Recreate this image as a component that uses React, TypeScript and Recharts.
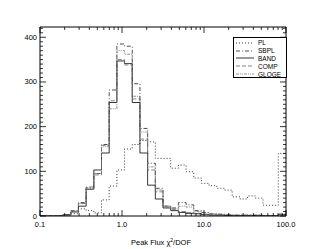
import { Line, LineChart, XAxis, YAxis } from 'recharts'

// 32 log-spaced bins between 0.1 and 100
const NBINS = 32
const binEdges = Array.from({ length: NBINS + 1 }, (_, k) => Math.pow(10, -1 + (k * 3) / NBINS))

const pl = [0, 0, 0, 1, 5, 16, 12, 7, 36, 67, 103, 150, 160, 169, 166, 129, 129, 107, 114, 99, 85, 73, 68, 62, 58, 43, 38, 45, 40, 24, 24, 140]
const sbpl = [0, 0, 1, 3, 12, 30, 63, 95, 160, 282, 385, 380, 296, 196, 118, 62, 22, 18, 30, 25, 12, 8, 5, 4, 3, 2, 2, 2, 2, 1, 1, 4]
const band = [0, 0, 1, 3, 9, 22, 60, 103, 141, 254, 347, 341, 254, 141, 69, 38, 18, 12, 8, 6, 5, 3, 2, 2, 1, 1, 1, 1, 1, 1, 1, 3]
const comp = [0, 0, 1, 3, 10, 28, 65, 92, 158, 258, 350, 338, 262, 172, 103, 54, 22, 15, 10, 8, 6, 4, 3, 2, 2, 1, 1, 1, 1, 1, 1, 3]
const gloge = [0, 0, 1, 3, 11, 28, 62, 95, 155, 240, 370, 362, 268, 188, 110, 58, 20, 16, 22, 20, 10, 7, 5, 4, 3, 2, 2, 2, 2, 1, 1, 4]

const xMajor = [0.1, 1, 10, 100]
const xMajorLabels = ['0.1', '1.0', '10.0', '100.0']
const xMinor = [0.2, 0.3, 0.4, 0.5, 0.6, 0.7, 0.8, 0.9, 2, 3, 4, 5, 6, 7, 8, 9, 20, 30, 40, 50, 60, 70, 80, 90]
const yMajor = [0, 100, 200, 300, 400]
const yMinor = Array.from({ length: 43 }, (_, i) => i * 10).filter((v) => v % 100 !== 0)

const series = [
  { key: 'PL', values: pl, color: '#000', dash: '1 2' },
  { key: 'SBPL', values: sbpl, color: '#222', dash: '4 2 1 2' },
  { key: 'BAND', values: band, color: '#000', dash: undefined },
  { key: 'COMP', values: comp, color: '#666', dash: '4 2' },
  { key: 'GLOGE', values: gloge, color: '#777', dash: '3 1 1 1 1 1' },
]

const data = binEdges.map((x, k) => {
  const row: Record<string, number> = { x }
  series.forEach((s) => {
    row[s.key] = s.values[Math.min(k, NBINS - 1)]
  })
  return row
})

const FONT = '"Liberation Sans", Arial, sans-serif'
const allX = [...xMajor, ...xMinor].sort((a, b) => a - b)
const allY = [...yMajor, ...yMinor].sort((a, b) => a - b)

function BottomTick({ x, y, payload }: any) {
  const i = xMajor.indexOf(payload.value)
  const major = i >= 0
  return (
    <g>
      <line x1={x} x2={x} y1={y} y2={y - (major ? 6 : 3)} stroke="#000" strokeWidth={0.8} />
      {major && (
        <text x={x} y={y + 11} textAnchor="middle" fontSize={7.5} fontFamily={FONT} fill="#000">
          {xMajorLabels[i]}
        </text>
      )}
    </g>
  )
}

function TopTick({ x, y, payload }: any) {
  const major = xMajor.includes(payload.value)
  return <line x1={x} x2={x} y1={y} y2={y + (major ? 6 : 3)} stroke="#000" strokeWidth={0.8} />
}

function LeftTick({ x, y, payload }: any) {
  const major = yMajor.includes(payload.value)
  return (
    <g>
      <line x1={x} x2={x + (major ? 6 : 3)} y1={y} y2={y} stroke="#000" strokeWidth={0.8} />
      {major && (
        <text x={x - 3} y={y + 2.5} textAnchor="end" fontSize={7.5} fontFamily={FONT} fill="#000">
          {payload.value}
        </text>
      )}
    </g>
  )
}

function RightTick({ x, y, payload }: any) {
  const major = yMajor.includes(payload.value)
  return <line x1={x} x2={x - (major ? 6 : 3)} y1={y} y2={y} stroke="#000" strokeWidth={0.8} />
}

function LegendBox() {
  return (
    <div
      style={{
        position: 'absolute',
        left: 233,
        top: 37,
        width: 54,
        height: 41,
        border: '1px solid #000',
        background: '#fff',
        color: '#000',
        fontFamily: FONT,
        fontSize: 6.5,
        boxSizing: 'border-box',
        paddingTop: 1,
      }}
    >
      {series.map((s) => (
        <div key={s.key} style={{ display: 'flex', alignItems: 'center', height: 7.8 }}>
          <svg width={20} height={6} style={{ marginLeft: 2 }}>
            <line x1={0} x2={18} y1={3} y2={3} stroke={s.color} strokeWidth={0.8} strokeDasharray={s.dash} />
          </svg>
          <span style={{ marginLeft: 2, lineHeight: '7px' }}>{s.key}</span>
        </div>
      ))}
    </div>
  )
}

export default function App() {
  return (
    <div style={{ position: 'absolute', left: 0, top: 0, width: 311, height: 249, background: '#fff' }}>
      <LineChart width={311} height={249} data={data} margin={{ top: 0, right: 0, bottom: 0, left: 0 }}>
        <XAxis
          dataKey="x"
          type="number"
          scale="log"
          domain={[0.1, 100]}
          allowDataOverflow
          ticks={allX}
          interval={0}
          tickSize={0}
          tickMargin={0}
          height={33}
          tick={<BottomTick />}
          axisLine={{ stroke: '#000' }}
        />
        <XAxis
          xAxisId="top"
          orientation="top"
          dataKey="x"
          type="number"
          scale="log"
          domain={[0.1, 100]}
          allowDataOverflow
          ticks={allX}
          interval={0}
          tickSize={0}
          tickMargin={0}
          height={27}
          tick={<TopTick />}
          axisLine={{ stroke: '#000' }}
        />
        <YAxis
          type="number"
          domain={[0, 423]}
          allowDataOverflow
          ticks={allY}
          interval={0}
          tickSize={0}
          tickMargin={0}
          width={40}
          tick={<LeftTick />}
          axisLine={{ stroke: '#000' }}
        />
        <YAxis
          yAxisId="right"
          orientation="right"
          type="number"
          domain={[0, 423]}
          allowDataOverflow
          ticks={allY}
          interval={0}
          tickSize={0}
          tickMargin={0}
          width={25}
          tick={<RightTick />}
          axisLine={{ stroke: '#000' }}
        />
        {series.map((s) => (
          <Line
            key={s.key}
            dataKey={s.key}
            type="stepAfter"
            stroke={s.color}
            strokeWidth={0.8}
            strokeDasharray={s.dash}
            dot={false}
            activeDot={false}
            isAnimationActive={false}
          />
        ))}
        <text x={161} y={245} textAnchor="middle" fontSize={7.5} fontFamily={FONT} fill="#000">
          Peak Flux χ<tspan dy={-3} fontSize={5}>2</tspan>
          <tspan dy={3}>/DOF</tspan>
        </text>
      </LineChart>
      <LegendBox />
    </div>
  )
}
